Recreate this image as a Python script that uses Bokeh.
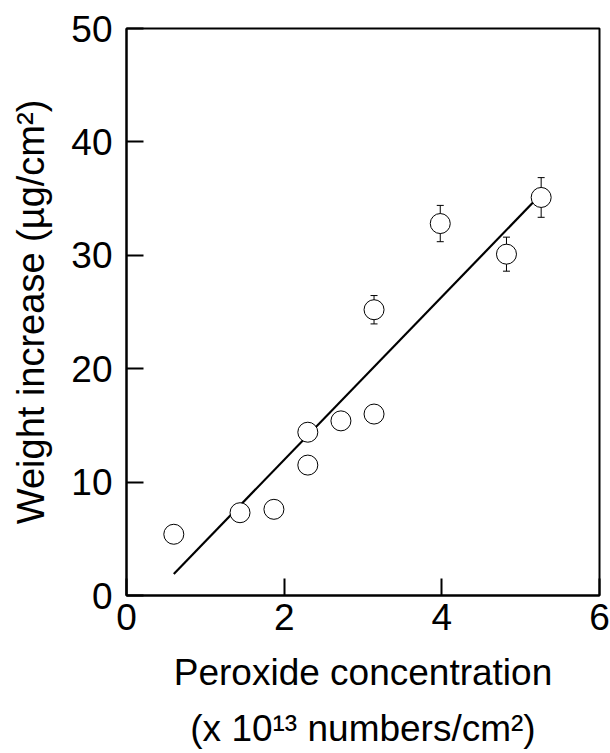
from bokeh.plotting import figure
from bokeh.models import ColumnDataSource, Whisker, TeeHead, Range1d, FixedTicker
from bokeh.embed import file_html
from bokeh.resources import INLINE

# ---- data ----
conc = [0.60, 1.44, 1.87, 2.30, 2.30, 2.72, 3.14, 3.14, 3.98, 4.82, 5.26]
weight = [5.4, 7.3, 7.6, 11.5, 14.4, 15.4, 16.0, 25.2, 32.8, 30.1, 35.1]

err_x = [3.14, 3.98, 4.82, 5.26]
err_y = [25.2, 32.8, 30.1, 35.1]
err_size = [1.25, 1.6, 1.5, 1.75]

fit_x = [0.60, 5.26]
fit_y = [1.9, 35.4]

x_ticks = [0, 2, 4, 6]
y_ticks = [0, 10, 20, 30, 40, 50]

FONT = "Liberation Sans"

p = figure(width=610, height=753, output_backend="svg", toolbar_location=None,
           x_range=Range1d(0, 6), y_range=Range1d(0, 50),
           min_border_left=126, min_border_top=28, min_border_right=11,
           min_border_bottom=158)
p.grid.visible = False
p.background_fill_color = "white"
p.border_fill_color = "white"
p.outline_line_color = "black"
p.outline_line_width = 2

for ax in (p.xaxis[0], p.yaxis[0]):
    ax.axis_line_width = 2
    ax.major_tick_line_width = 2
    ax.major_tick_in = 17
    ax.major_tick_out = 0
    ax.minor_tick_line_color = None
    ax.major_label_text_font = FONT
    ax.major_label_text_font_size = "37px"
    ax.major_label_text_color = "black"
    ax.axis_label_text_font = FONT
    ax.axis_label_text_font_style = "normal"
    ax.axis_label_text_color = "black"

p.xaxis.ticker = FixedTicker(ticks=x_ticks)
p.yaxis.ticker = FixedTicker(ticks=y_ticks)
p.xaxis.major_label_standoff = 8
p.yaxis.major_label_standoff = 14

p.xaxis.axis_label = "Peroxide concentration\n(x 10\u00b9\u00b3 numbers/cm\u00b2)"
p.xaxis.axis_label_text_font_size = "37px"
p.xaxis.axis_label_standoff = 19
p.xaxis.axis_label_text_line_height = 1.38

p.yaxis.axis_label = "Weight increase (\u00b5g/cm\u00b2)"
p.yaxis.axis_label_text_font_size = "38px"
p.yaxis.axis_label_standoff = 16

# error bars (drawn beneath the white-filled markers)
esrc = ColumnDataSource(dict(x=err_x,
                             upper=[y + e for y, e in zip(err_y, err_size)],
                             lower=[y - e for y, e in zip(err_y, err_size)]))
wh = Whisker(base="x", upper="upper", lower="lower", source=esrc,
             line_color="black", line_width=1, level="underlay",
             upper_head=TeeHead(size=7, line_width=1, line_color="black"),
             lower_head=TeeHead(size=7, line_width=1, line_color="black"))
p.add_layout(wh)

p.line(fit_x, fit_y, line_color="black", line_width=2.2)
p.scatter(conc, weight, marker="circle", size=20, fill_color="white",
          line_color="black", line_width=1)

open("out.html", "w").write(file_html(p, INLINE))
